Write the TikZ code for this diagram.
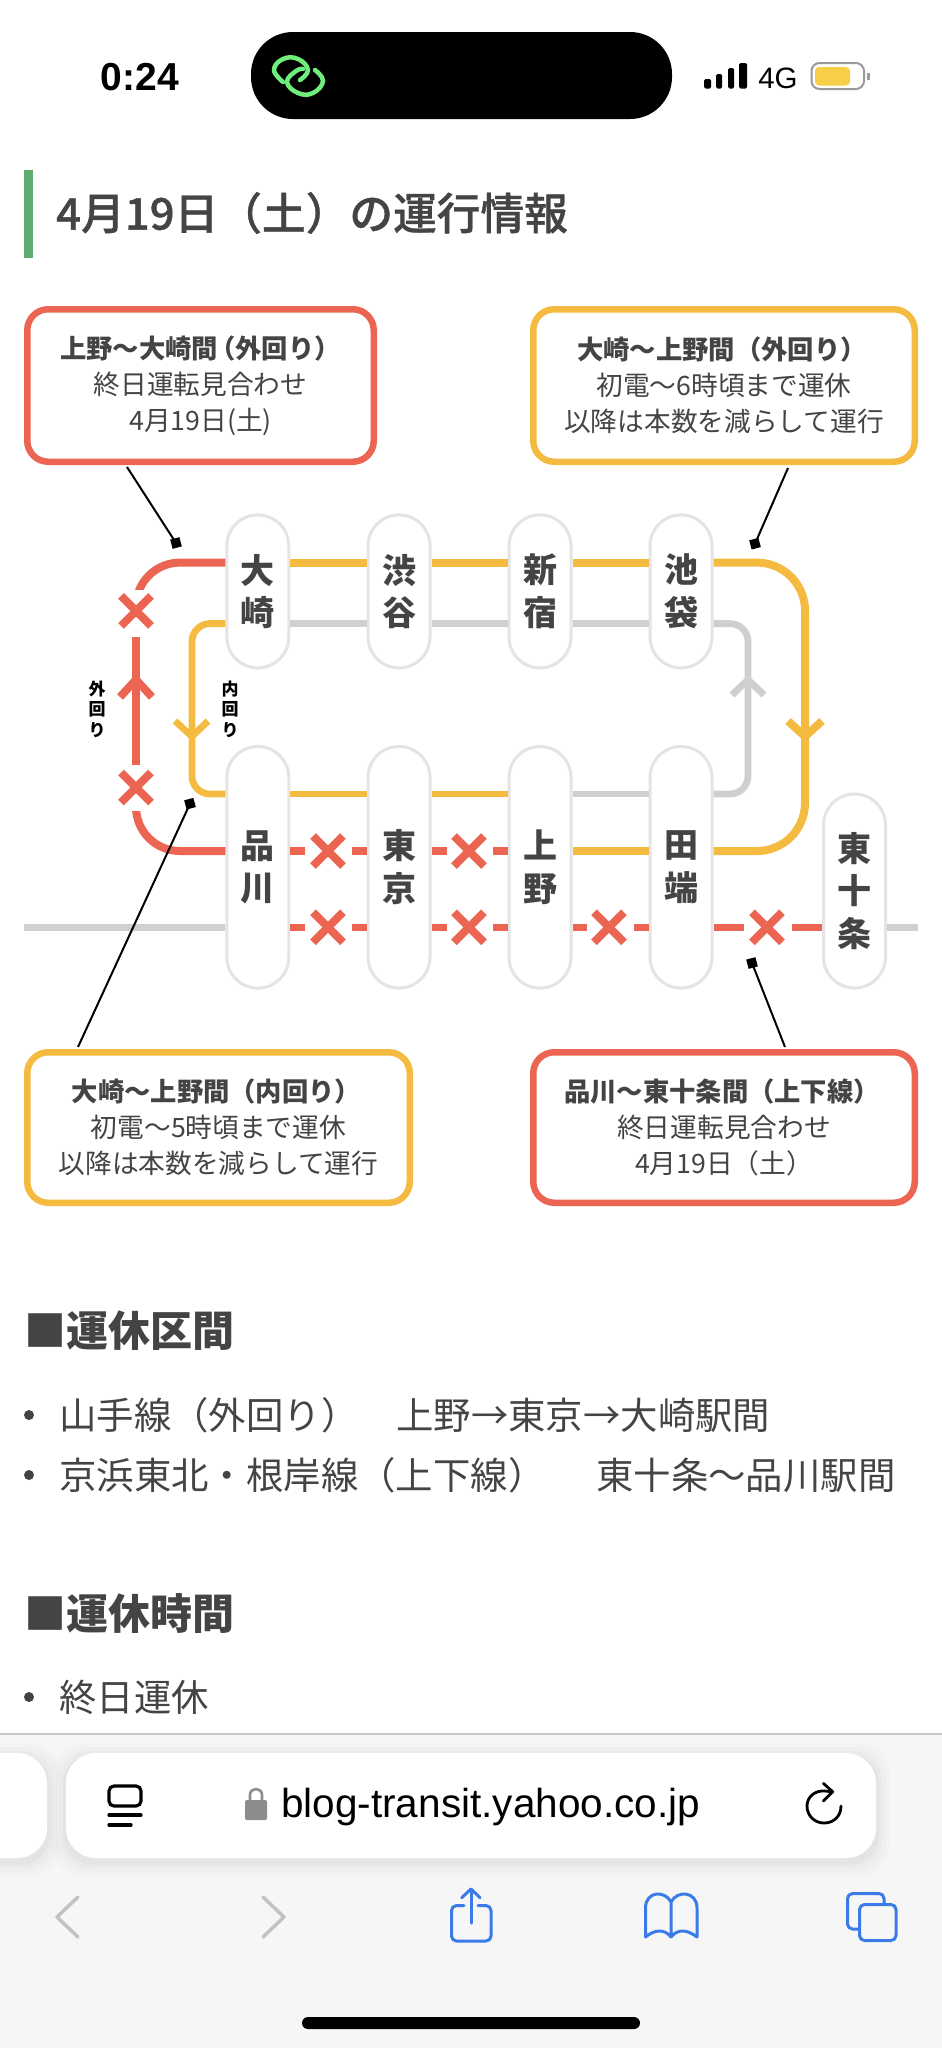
\documentclass[tikz,border=0pt]{standalone}
\usepackage{fontspec}
\usetikzlibrary{shapes.geometric,calc}
\setmainfont{Noto Sans CJK JP}
\newfontfamily\latinui{Liberation Sans}
\newfontfamily\medfont[FakeBold=0.8]{Noto Sans CJK JP Medium}
\newcommand\upa[1]{\raisebox{1.5pt}{#1}}
\newcommand\headl[1]{{\fontsize{26.3}{36}\bfseries\selectfont #1}}
\definecolor{redl}{HTML}{EC6553}
\definecolor{yell}{HTML}{F5BB40}
\definecolor{grayl}{HTML}{CFCFCF}
\definecolor{pillc}{HTML}{E4E4E4}
\definecolor{inkc}{HTML}{444444}
\definecolor{barg}{HTML}{5FAB70}
\definecolor{bluei}{HTML}{3A7BE8}
\definecolor{navg}{HTML}{C2C2C2}
\definecolor{toolbg}{HTML}{F6F6F6}
\definecolor{linkg}{HTML}{6FEE7C}
\definecolor{battc}{HTML}{F6CE47}
\tikzset{
 station/.style={draw=pillc,fill=white,line width=3pt,rounded corners=31pt,minimum width=62pt,inner sep=0pt,text=inkc,align=center,font=\fontsize{34}{42.5}\bfseries\selectfont},
 hi/.style={station,minimum height=153pt},
 lo/.style={station,minimum height=241.6pt},
 note/.style={draw=#1,fill=white,line width=6.5pt,rounded corners=21pt,inner sep=0pt,align=center,text=inkc,font=\fontsize{26.7}{36}\selectfont},
 rline/.style={draw=redl,line width=8pt},
 yline/.style={draw=yell,line width=8pt},
 ythin/.style={draw=yell,line width=6.8pt},
 gthin/.style={draw=grayl,line width=6.8pt},
 rthin/.style={draw=redl,line width=7.2pt},
 leader/.style={draw=black,line width=2pt},
 tip/.style={rectangle,fill=black,inner sep=0pt,minimum size=9.5pt,rotate=15},
 plain/.style={inner sep=0pt,text=inkc},
 side/.style={inner sep=0pt,text=black,align=center,font=\fontsize{17}{20.5}\bfseries\selectfont},
 xmark/.pic={\draw[rline] (-15,-15)--(15,15) (-15,15)--(15,-15);},
 icon/.style={line width=3pt,line cap=round,line join=round},
}
\begin{document}
\begin{tikzpicture}[x=1pt,y=-1pt]
\path[use as bounding box,fill=white] (0,0) rectangle (942,2048);
% status bar
\node[plain,text=black,anchor=center,font=\latinui\fontsize{39}{39}\bfseries\selectfont] (clock) at (140,77) {0:24};
\fill[black,rounded corners=42pt] (251,32) rectangle (672,119);
\draw[linkg,line width=4.5pt,line cap=round] plot[smooth,tension=.75] coordinates {(283,82) (274,70) (283,59) (298,59) (308,70) (300,80)};
\draw[linkg,line width=4.5pt,line cap=round] plot[smooth,tension=.75] coordinates {(315,70) (323,81) (313,93) (298,93) (287,82) (296,71) (303,69)};
\fill[black,rounded corners=1.5pt] (704,79) rectangle (711,88.5) (716,74) rectangle (722,88.5) (728,68) rectangle (734,88.5) (739,63) rectangle (747,88.5);
\node[plain,text=black,font=\latinui\fontsize{29.5}{29}\selectfont] (net) at (778,78) {4G};
\draw[gray!80,line width=2pt,rounded corners=8pt] (811.5,63) rectangle (864,89);
\fill[battc,rounded corners=4pt] (815,67) rectangle (850,85.5);
\fill[gray!80] (867,73) rectangle (870,79.5);
% heading
\fill[barg] (24,170) rectangle (33,258);
\node[plain,anchor=west,font=\medfont\fontsize{43.7}{44}\selectfont] (title) at (56,213) {4月19日（土）の運行情報};
% stations
\node[hi] (osaki) at (257.8,591.4) {\upa{大}\\\upa{崎}};
\node[hi] (shibuya) at (399,591.4) {\upa{渋}\\\upa{谷}};
\node[hi] (shinjuku) at (540,591.4) {\upa{新}\\\upa{宿}};
\node[hi] (ikebukuro) at (681,591.4) {\upa{池}\\\upa{袋}};
\node[lo] (shinagawa) at (257.8,867.3) {\upa{品}\\\upa{川}};
\node[lo] (tokyo) at (399,867.3) {\upa{東}\\\upa{京}};
\node[lo] (ueno) at (540,867.3) {\upa{上}\\\upa{野}};
\node[lo] (tabata) at (681,867.3) {\upa{田}\\\upa{端}};
\node[station,minimum height=194pt] (jujo) at (854.5,891) {東\\十\\条};
\coordinate (ra) at (0,562.6);
\coordinate (rb) at (0,623.6);
\coordinate (rc) at (0,794);
\coordinate (rd) at (0,851);
\coordinate (re) at (0,927.3);
% outer top
\draw[yline] (osaki.east|-ra)--(shibuya.west|-ra) (shibuya.east|-ra)--(shinjuku.west|-ra) (shinjuku.east|-ra)--(ikebukuro.west|-ra);
\draw[yline,rounded corners=48pt] (ikebukuro.east|-ra)--(805,562.6)--(805,851)--(tabata.east|-rd);
\draw[yline] (788,721)--(805,736.5)--(822,721);
% inner top grey
\draw[gthin] (osaki.east|-rb)--(shibuya.west|-rb) (shibuya.east|-rb)--(shinjuku.west|-rb) (shinjuku.east|-rb)--(ikebukuro.west|-rb);
\draw[gthin,rounded corners=18pt] (ikebukuro.east|-rb)--(748,623.6)--(748,794)--(tabata.east|-rc);
\draw[gthin] (732,695)--(748,679.7)--(764,695);
\draw[gthin] (ueno.east|-rc)--(tabata.west|-rc);
% inner yellow
\draw[ythin,rounded corners=18pt] (osaki.west|-rb)--(192,623.6)--(192,794)--(shinagawa.west|-rc);
\draw[ythin] (175,721)--(192,736.5)--(208,721);
\draw[ythin] (shinagawa.east|-rc)--(tokyo.west|-rc) (tokyo.east|-rc)--(ueno.west|-rc);
% red left
\begin{scope}
\clip (100,540) rectangle (230,589.5);
\draw[rline,rounded corners=44pt] (osaki.west|-ra)--(136,562.6)--(136,630);
\end{scope}
\begin{scope}
\clip (100,811) rectangle (230,870);
\draw[rline,rounded corners=44pt] (shinagawa.west|-rd)--(136,851)--(136,785);
\end{scope}
\draw[rline] (136,764.8)--(136,636.7);
\draw[rline] (120,697)--(136,679.7)--(152,697);
\pic at (136,610.9) {xmark};
\pic at (136,787.5) {xmark};
% red dashes row d
\draw[rthin] (shinagawa.east|-rd)--(305,851) (352,851)--(tokyo.west|-rd) (tokyo.east|-rd)--(447,851) (493,851)--(ueno.west|-rd);
\pic at (328,851) {xmark};
\pic at (469,851) {xmark};
\draw[yline] (ueno.east|-rd)--(tabata.west|-rd);
% row e
\coordinate (grayl0) at (24,927.3);
\coordinate (grayr0) at (918,927.3);
\draw[gthin] (grayl0)--(shinagawa.west|-re);
\draw[gthin] (jujo.east|-re)--(grayr0);
\draw[rthin] (shinagawa.east|-re)--(305,927.3) (352,927.3)--(tokyo.west|-re) (tokyo.east|-re)--(447,927.3) (493,927.3)--(ueno.west|-re) (ueno.east|-re)--(587,927.3) (634,927.3)--(tabata.west|-re) (tabata.east|-re)--(744,927.3) (792,927.3)--(jujo.west|-re);
\pic at (328,927.3) {xmark};
\pic at (469,927.3) {xmark};
\pic at (609,927.3) {xmark};
\pic at (767,927.3) {xmark};
% side labels
\node[side] (outl) at (97,709) {外\\回\\り};
\node[side] (inl) at (230,709) {内\\回\\り};
% notes
\node[note=redl,minimum width=346.5pt,minimum height=152.5pt] (n1) at (200.5,385.5) {\headl{上野～大崎間\hspace{-9pt}（外回り）}\\終日運転見合わせ\\4月19日(土)};
\node[note=yell,minimum width=381.5pt,minimum height=152.5pt] (n2) at (724,385.5) {\headl{大崎～上野間（外回り）}\hspace*{4pt}\\初電～6時頃まで運休\\以降は本数を減らして運行};
\node[note=yell,minimum width=382.5pt,minimum height=150.5pt] (n3) at (218.5,1127.5) {\headl{大崎～上野間（内回り）}\hspace*{4pt}\\初電～5時頃まで運休\\以降は本数を減らして運行};
\node[note=redl,minimum width=381.5pt,minimum height=150.5pt] (n4) at (724,1127.5) {\headl{品川～東十条間（上下線）}\hspace*{4pt}\\終日運転見合わせ\\4月19日（土）};
\node[tip] (t1) at (176,543) {};
\node[tip] (t2) at (755,543.7) {};
\node[tip] (t3) at (190,803.7) {};
\node[tip] (t4) at (752,963) {};
\coordinate (a1) at (127,467);
\coordinate (a2) at (788,468);
\coordinate (a3) at (78,1047);
\coordinate (a4) at (785,1047);
\draw[leader] (a1)--(t1.center);
\draw[leader] (a2)--(t2.center);
\draw[leader] (a3)--(t3.center);
\draw[leader] (a4)--(t4.center);
% body text
\node[plain,anchor=west,font=\fontsize{42}{42}\bfseries\selectfont] (h1) at (24,1331) {■運休区間};
\node[plain,anchor=west,font=\fontsize{37.4}{38}\selectfont] (li1) at (59,1415) {山手線（外回り）};
\node[plain,anchor=west,font=\fontsize{37.4}{38}\selectfont] (li1b) at (396,1415) {上野→東京→大崎駅間};
\node[plain,anchor=west,font=\fontsize{37.4}{38}\selectfont] (li2) at (59,1475) {京浜東北・根岸線（上下線）};
\node[plain,anchor=west,font=\fontsize{37.4}{38}\selectfont] (li2b) at (596,1475) {東十条～品川駅間};
\node[plain,anchor=west,font=\fontsize{42}{42}\bfseries\selectfont] (h2) at (24,1613) {■運休時間};
\node[plain,anchor=west,font=\fontsize{37.4}{38}\selectfont] (li3) at (59,1697) {終日運休};
\fill[inkc] (29,1415) circle (5) (29,1475) circle (5) (29,1697) circle (5);
% toolbar
\fill[toolbg] (0,1734) rectangle (942,2048);
\draw[gray!45,line width=1.5pt] (0,1734)--(942,1734);
\foreach \s/\o in {14/.012,10/.015,6/.02,3/.025}{
 \fill[black,opacity=\o,rounded corners=30pt] (66-\s,1753-\s+4) rectangle (876+\s,1858+\s+4);
 \fill[black,opacity=\o,rounded corners=30pt] (-40,1753-\s+4) rectangle (47+\s,1858+\s+4);
}
\fill[white,rounded corners=30pt] (66,1753) rectangle (876,1858);
\fill[white,rounded corners=30pt] (-40,1753) rectangle (47,1858);
\draw[black,line width=3.2pt,rounded corners=5pt] (109,1786) rectangle (141,1806);
\draw[black,line width=3.2pt,line cap=round] (109,1815)--(141,1815) (109,1825)--(131,1825);
\draw[gray!90,line width=2.6pt] (250,1801)--(250,1795) .. controls (250,1787) and (262,1787) .. (262,1795)--(262,1801);
\fill[gray!90,rounded corners=2pt] (245,1800) rectangle (267,1820);
\node[plain,text=black,anchor=west,font=\latinui\fontsize{40.5}{41}\selectfont] (url) at (281,1807) {blog-transit.yahoo.co.jp};
\draw[black,line width=2.8pt,line cap=round] (832,1791.7)--(825,1791) .. controls (815,1790) and (807,1797) .. (807,1806) .. controls (807,1816) and (815,1823) .. (824,1823) .. controls (834,1823) and (841,1816) .. (841,1806);
\draw[black,line width=2.8pt,line join=round,line cap=round] (823.3,1783.3)--(832.7,1791.7)--(823.3,1801);
\draw[navg,icon,line width=3.5pt] (78,1897)--(57,1917)--(78,1937);
\draw[navg,icon,line width=3.5pt] (263,1897)--(284,1917)--(263,1937);
\draw[bluei,icon,rounded corners=5pt] (464,1905.5)--(451.5,1905.5)--(451.5,1941)--(491,1941)--(491,1905.5)--(478,1905.5);
\draw[bluei,icon] (471,1923)--(471,1890);
\draw[bluei,icon] (461.7,1897.7)--(471,1889)--(480,1897.7);
\draw[bluei,icon] (671,1937) .. controls (664,1928) and (654,1930) .. (645.5,1937)--(645.5,1908) .. controls (645.5,1891) and (665,1890) .. (671,1902)--(671,1937) .. controls (678,1928) and (688,1930) .. (697,1937)--(697,1908) .. controls (697,1891) and (677,1890) .. (671,1902);
\draw[bluei,icon,rounded corners=5pt] (858,1929)--(847.5,1929)--(847.5,1893.5)--(884,1893.5)--(884,1903);
\draw[bluei,icon,rounded corners=5pt] (859.5,1904.5) rectangle (896,1940.5);
\fill[black,rounded corners=6pt] (302,2017) rectangle (640,2029);
\end{tikzpicture}
\end{document}
